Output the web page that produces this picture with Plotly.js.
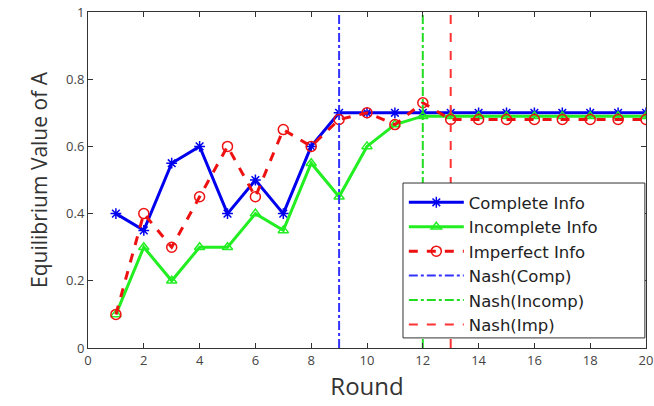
<!DOCTYPE html>
<html><head><meta charset="utf-8">
<script src="https://cdn.plot.ly/plotly-3.0.1.min.js"></script>
<style>html,body{margin:0;padding:0;background:#fff}</style>
</head><body><div id="chart" style="width:654px;height:406px"></div>
<script>
const rounds = [1,2,3,4,5,6,7,8,9,10,11,12,13,14,15,16,17,18,19,20];
const completeInfo   = [0.40,0.35,0.55,0.60,0.40,0.50,0.40,0.60,0.70,0.70,0.70,0.70,0.70,0.70,0.70,0.70,0.70,0.70,0.70,0.70];
const incompleteInfo = [0.10,0.30,0.20,0.30,0.30,0.40,0.35,0.55,0.45,0.60,0.665,0.69,0.69,0.69,0.69,0.69,0.69,0.69,0.69,0.69];
const imperfectInfo  = [0.10,0.40,0.30,0.45,0.60,0.45,0.65,0.60,0.68,0.70,0.665,0.73,0.68,0.68,0.68,0.68,0.68,0.68,0.68,0.68];
const nashComp = 9, nashIncomp = 12, nashImp = 13;
const yRange = [0, 1];

const traces = [
  {x: rounds, y: completeInfo, name: 'Complete Info', mode: 'lines+markers',
   line: {color: '#0000ee', width: 3}, marker: {symbol: 'asterisk-open', size: 9, color: '#0000ee', line: {color: '#0000ee', width: 1.5}}},
  {x: rounds, y: incompleteInfo, name: 'Incomplete Info', mode: 'lines+markers',
   line: {color: '#22ee22', width: 3}, marker: {symbol: 'triangle-up-open', size: 9, color: '#22ee22', line: {color: '#22ee22', width: 1.5}}},
  {x: rounds, y: imperfectInfo, name: 'Imperfect Info', mode: 'lines+markers',
   line: {color: '#ee1111', width: 3, dash: 'dash'}, marker: {symbol: 'circle-open', size: 10, color: '#ee1111', line: {color: '#ee1111', width: 1.5}}},
  {x: [nashComp, nashComp], y: yRange, name: 'Nash(Comp)', mode: 'lines',
   line: {color: '#3333ff', width: 2, dash: 'dashdot'}},
  {x: [nashIncomp, nashIncomp], y: yRange, name: 'Nash(Incomp)', mode: 'lines',
   line: {color: '#22dd22', width: 2, dash: 'dashdot'}},
  {x: [nashImp, nashImp], y: yRange, name: 'Nash(Imp)', mode: 'lines',
   line: {color: '#ff3333', width: 2, dash: 'dash'}}
];

const axisCommon = {
  showgrid: false, zeroline: false, showline: true, mirror: 'ticks',
  linecolor: '#333', linewidth: 1, ticks: 'inside', ticklen: 5, tickcolor: '#333',
  tickfont: {family: 'Open Sans, sans-serif', size: 13, color: '#444'}
};

const layout = {
  width: 654, height: 406,
  margin: {l: 88, r: 8, t: 12, b: 58},
  paper_bgcolor: '#fff', plot_bgcolor: '#fff',
  font: {family: 'Open Sans, sans-serif'},
  xaxis: Object.assign({}, axisCommon, {range: [0, 20], dtick: 2, tick0: 0,
    title: {text: 'Round', font: {size: 24, color: '#333'}, standoff: 8}}),
  yaxis: Object.assign({}, axisCommon, {range: [0, 1], dtick: 0.2, tick0: 0,
    title: {text: 'Equilibrium Value of A', font: {size: 21, color: '#333'}, standoff: 12}}),
  shapes: [{type: 'rect', xref: 'paper', yref: 'paper', x0: 0.5645, x1: 0.998, y0: 0.03, y1: 0.491,
    layer: 'above', fillcolor: '#fff', line: {color: '#333', width: 1}}],
  legend: {x: 0.566, y: 0.485, xanchor: 'left', yanchor: 'top',
    bgcolor: 'rgba(0,0,0,0)', borderwidth: 0,
    font: {family: 'DejaVu Sans, sans-serif', size: 16.5, color: '#222'}, itemwidth: 55, tracegroupgap: 0},
  showlegend: true
};

Plotly.newPlot('chart', traces, layout, {displayModeBar: false, staticPlot: true});
</script></body></html>
